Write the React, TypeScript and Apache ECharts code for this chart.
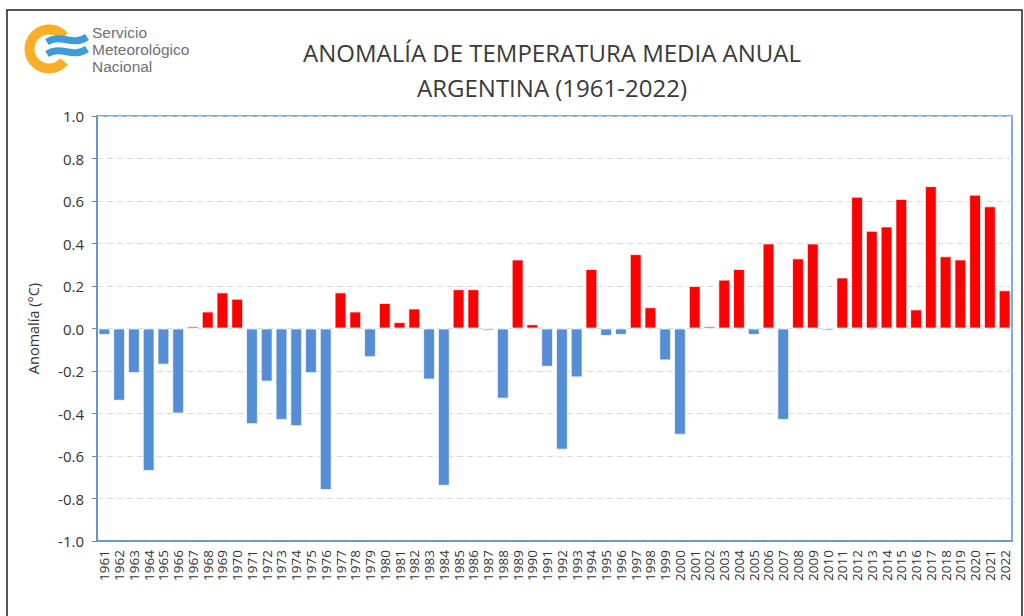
import React, { useEffect, useRef } from "react";
import * as echarts from "echarts";

const years: string[] = [
  "1961","1962","1963","1964","1965","1966","1967","1968","1969","1970",
  "1971","1972","1973","1974","1975","1976","1977","1978","1979","1980",
  "1981","1982","1983","1984","1985","1986","1987","1988","1989","1990",
  "1991","1992","1993","1994","1995","1996","1997","1998","1999","2000",
  "2001","2002","2003","2004","2005","2006","2007","2008","2009","2010",
  "2011","2012","2013","2014","2015","2016","2017","2018","2019","2020",
  "2021","2022",
];

const anomalies: number[] = [
  -0.03, -0.34, -0.21, -0.67, -0.17, -0.40, 0.01, 0.08, 0.17, 0.14,
  -0.45, -0.25, -0.43, -0.46, -0.21, -0.76, 0.17, 0.08, -0.135, 0.12,
  0.03, 0.094, -0.24, -0.74, 0.185, 0.185, -0.01, -0.33, 0.325, 0.02,
  -0.18, -0.57, -0.23, 0.28, -0.035, -0.03, 0.35, 0.10, -0.15, -0.50,
  0.20, 0.01, 0.23, 0.28, -0.03, 0.40, -0.43, 0.33, 0.40, -0.01,
  0.24, 0.62, 0.46, 0.48, 0.61, 0.09, 0.67, 0.34, 0.325, 0.63,
  0.575, 0.18,
];

const titleLines: string[] = ["ANOMALÍA DE TEMPERATURA MEDIA ANUAL", "ARGENTINA (1961-2022)"];
const logoLines: string[] = ["Servicio", "Meteorológico", "Nacional"];

const POS = "#FF0000";
const NEG = "#558ED5";
const AXIS = "#5B8ECC";

export default function App() {
  const ref = useRef<HTMLDivElement>(null);
  useEffect(() => {
    if (!ref.current) return;
    const chart = echarts.init(ref.current, null, { renderer: "svg" });
    const font = "'Open Sans', 'Liberation Sans', sans-serif";
    chart.setOption({
      animation: false,
      backgroundColor: "#fff",
      textStyle: { fontFamily: font },
      grid: {
        left: 97, right: 12, top: 116, bottom: 75,
        show: true, borderColor: AXIS, borderWidth: 1.5,
      },
      graphic: [
        { type: "rect", shape: { x: 7, y: 10, width: 1015, height: 620 }, style: { fill: "none", stroke: "#222", lineWidth: 1.5 }, silent: true },
        { type: "arc", shape: { cx: 49, cy: 49, r: 19.5, startAngle: Math.PI * 0.22, endAngle: -Math.PI * 0.22, clockwise: true }, style: { stroke: "#F9AE25", lineWidth: 10, fill: "none" } },
        { type: "bezierCurve", shape: { x1: 47, y1: 42, cpx1: 62, cpy1: 33, cpx2: 72, cpy2: 47, x2: 87, y2: 37 }, style: { stroke: "#3E9BDA", lineWidth: 7, fill: "none" } },
        { type: "bezierCurve", shape: { x1: 47, y1: 54, cpx1: 62, cpy1: 45, cpx2: 72, cpy2: 59, x2: 87, y2: 49 }, style: { stroke: "#3E9BDA", lineWidth: 7, fill: "none" } },
        ...logoLines.map((t, i) => ({
          type: "text", left: 92, top: 24 + i * 17,
          style: { text: t, fontSize: 15.5, fill: "#707070", fontFamily: "'Liberation Sans', Arial, sans-serif" },
        })),
        ...titleLines.map((t, i) => ({
          type: "text", x: 552, y: 52 + i * 35,
          style: { text: t, fontSize: 24, fill: "#3a3a3a", fontFamily: font, align: "center", verticalAlign: "middle" },
        })),
      ],
      xAxis: {
        type: "category",
        data: years,
        axisLine: { onZero: false, lineStyle: { color: AXIS, width: 1.5 } },
        axisTick: { show: false },
        axisLabel: { rotate: 90, interval: 0, fontSize: 13.5, color: "#333", margin: 9 },
      },
      yAxis: {
        type: "value",
        min: -1, max: 1, interval: 0.2,
        name: "Anomalía (°C)",
        nameLocation: "middle",
        nameGap: 56,
        nameTextStyle: { fontSize: 14.5, color: "#333" },
        axisLine: { show: true, lineStyle: { color: AXIS, width: 1.5 } },
        axisTick: { show: true, length: 5, lineStyle: { color: AXIS } },
        axisLabel: { fontSize: 15, color: "#333", margin: 13, formatter: (v: number) => v.toFixed(1) },
        splitLine: { lineStyle: { color: "#d9d9d9", type: [6, 4], width: 1.2 } },
      },
      series: [
        {
          type: "bar",
          data: anomalies.map((v) => ({ value: v, itemStyle: { color: v >= 0 ? POS : NEG } })),
          barCategoryGap: "20%",
          itemStyle: { borderColor: "rgba(255,255,255,0.7)", borderWidth: 1 },
        },
      ],
    });
    return () => chart.dispose();
  }, []);
  return <div ref={ref} style={{ width: 1024, height: 616, position: "absolute", left: 0, top: 0 }} />;
}
